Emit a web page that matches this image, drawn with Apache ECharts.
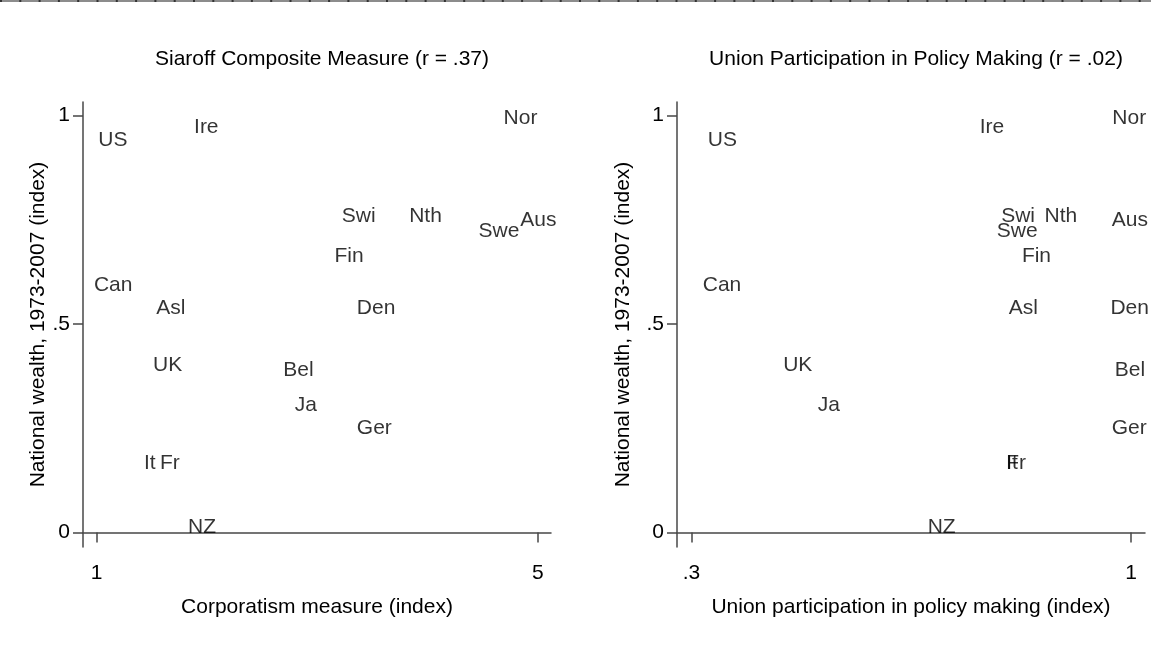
<!DOCTYPE html>
<html>
<head>
<meta charset="utf-8">
<script src="https://cdn.jsdelivr.net/npm/echarts@6/dist/echarts.min.js"></script>
<style>
  html, body { margin: 0; padding: 0; background: #fff; }
  #chart { width: 1151px; height: 664px; }
</style>
</head>
<body>
<div id="chart"></div>
<script>
// country labels
const countries = ["US", "Ire", "Nor", "Swi", "Nth", "Swe", "Aus", "Fin", "Can",
  "Asl", "Den", "UK", "Bel", "Ja", "Ger", "It", "Fr", "NZ"];
// national wealth, 1973-2007 (index)
const wealth = [0.941, 0.971, 0.994, 0.759, 0.759, 0.722, 0.748, 0.662, 0.592,
  0.538, 0.538, 0.402, 0.388, 0.305, 0.249, 0.166, 0.166, 0.012];
// Siaroff corporatism measure
const corporatism = [1.015, 1.883, 4.69, 3.223, 3.834, 4.463, 4.841, 3.156, 0.975,
  1.541, 3.359, 1.511, 2.693, 2.797, 3.359, 1.429, 1.574, 1.828];
// union participation in policy making
const unionPart = [0.326, 0.759, 0.970, 0.793, 0.862, 0.786, 0.969, 0.826, 0.318,
  0.805, 0.967, 0.446, 0.974, 0.501, 0.969, 0.801, 0.801, 0.676];

const xTicksLeft = [1, 5];
const xTicksRight = [0.3, 1];
const yTicks = [0, 0.5, 1];

const FONT = "Liberation Sans, Arial, Helvetica, sans-serif";
const FS = 21;

function fmt(v) {
  // Stata style: ".5", ".3"
  let s = String(Math.round(v * 100) / 100);
  return s.startsWith("0.") ? s.slice(1) : s;
}

function points(xs) {
  return countries.map((c, i) => ({ name: c, value: [xs[i], wealth[i]] }));
}

const axisLine = { show: true, lineStyle: { color: "#474747", width: 1.5 } };
const axisTick = (vals) => ({
  show: true, inside: false, length: 10, customValues: vals,
  lineStyle: { color: "#474747", width: 1.5 },
});
const axisLabel = (vals, margin) => ({
  customValues: vals, margin: margin, color: "#000",
  fontFamily: FONT, fontSize: FS, formatter: fmt,
});

function yAxis(idx, gap) {
  return {
    type: "value", gridIndex: idx, min: -0.035, max: 1.032,
    splitLine: { show: false },
    axisLine: axisLine, axisTick: axisTick(yTicks), axisLabel: axisLabel(yTicks, 13),
    name: "National wealth, 1973-2007 (index)", nameLocation: "middle", nameGap: gap,
    nameTextStyle: { color: "#000", fontFamily: FONT, fontSize: FS },
  };
}

function series(idx, xs) {
  return {
    type: "scatter", xAxisIndex: idx, yAxisIndex: idx,
    symbolSize: 0, itemStyle: { color: "transparent" },
    data: points(xs),
    label: {
      show: true, position: "right", distance: 0, formatter: "{b}",
      color: "#000", fontFamily: FONT, fontSize: FS,
    },
    emphasis: { disabled: true },
  };
}

const chart = echarts.init(document.getElementById("chart"));
chart.setOption({
  animation: false,
  backgroundColor: "#fff",
  graphic: [
    { type: "line", shape: { x1: 0, y1: 1, x2: 1151, y2: 1 },
      style: { stroke: "#8c8c8c", lineWidth: 2 } },
    { type: "line", shape: { x1: 0, y1: 1, x2: 1151, y2: 1 },
      style: { stroke: "#333", lineWidth: 2, lineDash: [2, 17.3] } },
  ],
  title: [
    { text: "Siaroff Composite Measure (r = .37)", left: 317, top: 44, textAlign: "center",
      textStyle: { color: "#000", fontFamily: FONT, fontSize: FS, fontWeight: "normal" } },
    { text: "Union Participation in Policy Making (r = .02)", left: 911, top: 44, textAlign: "center",
      textStyle: { color: "#000", fontFamily: FONT, fontSize: FS, fontWeight: "normal" } },
  ],
  grid: [
    { left: 83, top: 102, width: 468, height: 445 },
    { left: 677, top: 102, width: 468, height: 445 },
  ],
  xAxis: [
    { type: "value", gridIndex: 0, min: 0.876, max: 5.12,
      splitLine: { show: false }, axisLine: axisLine,
      axisTick: axisTick(xTicksLeft), axisLabel: axisLabel(xTicksLeft, 16),
      name: "Corporatism measure (index)", nameLocation: "middle", nameGap: 50,
      nameTextStyle: { color: "#000", fontFamily: FONT, fontSize: FS } },
    { type: "value", gridIndex: 1, min: 0.277, max: 1.022,
      splitLine: { show: false }, axisLine: axisLine,
      axisTick: axisTick(xTicksRight), axisLabel: axisLabel(xTicksRight, 16),
      name: "Union participation in policy making (index)", nameLocation: "middle", nameGap: 50,
      nameTextStyle: { color: "#000", fontFamily: FONT, fontSize: FS } },
  ],
  yAxis: [yAxis(0, 32), yAxis(1, 43)],
  series: [series(0, corporatism), series(1, unionPart)],
});
</script>
</body>
</html>
